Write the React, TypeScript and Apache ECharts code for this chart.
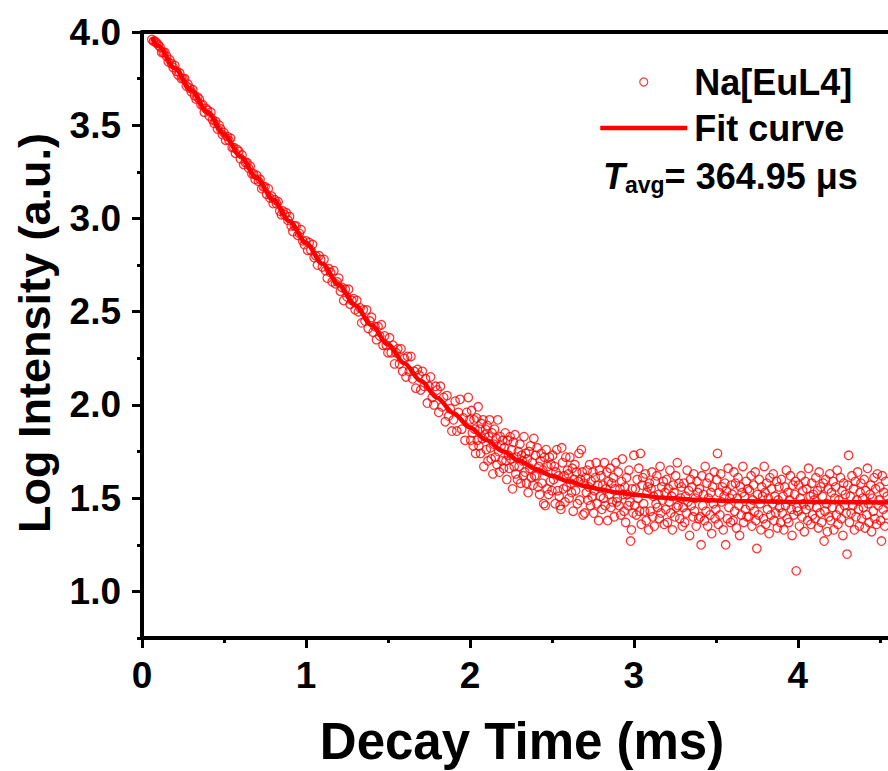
import React, { useEffect, useRef } from "react";
import * as echarts from "echarts";

const FONT = '"Liberation Sans", Arial, Helvetica, sans-serif';

const xTickValues = [0, 1, 2, 3, 4];
const xMinorTickValues = [0.5, 1.5, 2.5, 3.5, 4.5];
const yTickValues = [1.0, 1.5, 2.0, 2.5, 3.0, 3.5, 4.0];
const yMinorTickValues = [0.75, 1.25, 1.75, 2.25, 2.75, 3.25, 3.75];

const seriesNames = ["Na[EuL4]", "Fit curve"];
const xAxisTitle = "Decay Time (ms)";
const yAxisTitle = "Log Intensity (a.u.)";
const avgLifetimeUs = "364.95";

// measured decay (fast part), [time ms, log intensity]
const decayPoints = [
  [0.06,3.96],[0.07,3.95],[0.08,3.95],[0.09,3.94],
  [0.1,3.93],[0.11,3.92],[0.12,3.89],[0.13,3.89],[0.14,3.89],[0.15,3.87],[0.16,3.84],[0.17,3.85],[0.18,3.83],[0.19,3.81],
  [0.2,3.82],[0.21,3.79],[0.22,3.77],[0.23,3.78],[0.24,3.75],[0.25,3.75],[0.26,3.75],[0.27,3.71],[0.28,3.72],[0.29,3.7],
  [0.3,3.68],[0.31,3.69],[0.32,3.66],[0.33,3.64],[0.34,3.65],[0.35,3.64],[0.36,3.61],[0.37,3.61],[0.38,3.57],[0.39,3.59],
  [0.4,3.58],[0.41,3.55],[0.42,3.57],[0.43,3.53],[0.44,3.51],[0.45,3.52],[0.46,3.48],[0.47,3.5],[0.48,3.48],[0.49,3.45],
  [0.5,3.46],[0.51,3.42],[0.52,3.44],[0.53,3.42],[0.54,3.43],[0.55,3.38],[0.56,3.38],[0.57,3.35],[0.58,3.37],[0.59,3.36],
  [0.6,3.32],[0.61,3.34],[0.62,3.29],[0.63,3.3],[0.64,3.3],[0.65,3.27],[0.66,3.28],[0.67,3.24],[0.68,3.24],[0.69,3.21],
  [0.7,3.23],[0.71,3.2],[0.72,3.21],[0.73,3.16],[0.74,3.17],[0.75,3.17],[0.76,3.13],[0.77,3.16],[0.78,3.11],[0.79,3.12],
  [0.8,3.08],[0.81,3.1],[0.82,3.08],[0.83,3.09],[0.84,3.04],[0.85,3.02],[0.86,3.04],[0.87,3.02],[0.88,3.03],[0.89,2.99],
  [0.9,3.01],[0.91,2.96],[0.92,2.93],[0.93,2.96],[0.94,2.96],[0.95,2.91],[0.96,2.92],[0.97,2.94],[0.98,2.88],[0.99,2.86],
  [1,2.88],[1.01,2.83],[1.02,2.87],[1.03,2.83],[1.04,2.86],[1.05,2.79],[1.06,2.8],[1.07,2.75],[1.08,2.8],[1.09,2.78],
  [1.1,2.74],[1.11,2.78],[1.12,2.72],[1.13,2.68],[1.14,2.73],[1.15,2.71],[1.16,2.66],[1.17,2.72],[1.18,2.65],[1.19,2.66],
  [1.2,2.68],[1.21,2.61],[1.22,2.63],[1.23,2.56],[1.24,2.62],[1.25,2.58],[1.26,2.62],[1.27,2.54],[1.28,2.56],[1.29,2.57],
  [1.3,2.51],[1.31,2.56],[1.32,2.5],[1.33,2.52],[1.34,2.44],[1.35,2.51],[1.36,2.45],[1.37,2.51],[1.38,2.41],[1.39,2.45],
  [1.4,2.47],[1.41,2.39],[1.42,2.42],[1.43,2.35],[1.44,2.42],[1.45,2.37],[1.46,2.43],[1.47,2.32],[1.48,2.37],[1.49,2.32],
  [1.5,2.28],[1.51,2.36],[1.52,2.28],[1.53,2.32],[1.54,2.22],[1.55,2.28],[1.56,2.3],[1.57,2.22],[1.58,2.3],[1.59,2.18],
  [1.6,2.25],[1.61,2.15],[1.62,2.26],[1.63,2.18],[1.64,2.26],[1.65,2.14],[1.66,2.18],[1.67,2.09],[1.68,2.19],[1.69,2.16],
  [1.7,2.08],[1.71,2.18],[1.72,2.1],[1.73,2.14],[1.74,2.01],[1.75,2.1],[1.76,2.15],[1.77,2.04],[1.78,2.0],[1.79,2.1],
  [1.8,2.08],[1.81,1.96],[1.82,2.1],[1.83,1.99],[1.84,2.04],[1.85,1.91],[1.86,2.05],[1.87,1.94],[1.88,1.98],[1.89,1.86],
  [1.9,1.92],[1.91,2.02],[1.92,1.86],[1.93,1.96],[1.94,2.03],[1.95,1.87],[1.96,1.93],[1.97,1.81],[1.98,1.96],[1.99,2.04],
];

// measured decay (background tail), [time ms, log intensity]
const tailPoints = [
  [2,1.92],[2.005,1.81],[2.01,1.97],[2.015,1.85],[2.02,1.78],[2.025,1.92],[2.03,1.87],[2.035,1.74],[2.04,1.93],[2.045,1.81],[2.05,1.99],[2.055,1.78],[2.06,1.87],[2.065,1.74],[2.07,1.9],[2.075,1.82],[2.08,1.92],[2.085,1.67],[2.09,1.84],[2.095,1.87],
  [2.1,1.76],[2.105,1.89],[2.11,1.7],[2.115,1.83],[2.12,1.92],[2.125,1.77],[2.13,1.71],[2.135,1.85],[2.14,1.63],[2.145,1.79],[2.15,1.87],[2.155,1.72],[2.16,1.82],[2.165,1.68],[2.17,1.92],[2.175,1.75],[2.18,1.64],[2.185,1.83],[2.19,1.78],[2.195,1.7],
  [2.2,1.81],[2.205,1.66],[2.21,1.77],[2.215,1.85],[2.22,1.7],[2.225,1.6],[2.23,1.81],[2.235,1.73],[2.24,1.66],[2.245,1.83],[2.25,1.71],[2.255,1.76],[2.26,1.55],[2.265,1.8],[2.27,1.67],[2.275,1.84],[2.28,1.63],[2.285,1.72],[2.29,1.6],[2.295,1.75],
  [2.3,1.67],[2.305,1.79],[2.31,1.58],[2.315,1.73],[2.32,1.7],[2.325,1.62],[2.33,1.83],[2.335,1.64],[2.34,1.74],[2.345,1.58],[2.35,1.71],[2.355,1.53],[2.36,1.75],[2.365,1.66],[2.37,1.78],[2.375,1.61],[2.38,1.69],[2.385,1.57],[2.39,1.82],[2.395,1.62],
  [2.4,1.73],[2.405,1.62],[2.41,1.77],[2.415,1.56],[2.42,1.67],[2.425,1.52],[2.43,1.7],[2.435,1.74],[2.44,1.58],[2.445,1.65],[2.45,1.47],[2.455,1.72],[2.46,1.46],[2.465,1.76],[2.47,1.55],[2.475,1.67],[2.48,1.52],[2.485,1.72],[2.49,1.59],[2.495,1.68],
  [2.5,1.54],[2.505,1.73],[2.51,1.6],[2.515,1.67],[2.52,1.47],[2.525,1.64],[2.53,1.76],[2.535,1.54],[2.54,1.62],[2.545,1.51],[2.55,1.46],[2.555,1.44],[2.56,1.77],[2.565,1.69],[2.57,1.55],[2.575,1.62],[2.58,1.48],[2.585,1.72],[2.59,1.56],[2.595,1.65],
  [2.6,1.63],[2.605,1.5],[2.61,1.72],[2.615,1.58],[2.62,1.53],[2.625,1.66],[2.63,1.43],[2.635,1.6],[2.64,1.68],[2.645,1.54],[2.65,1.64],[2.655,1.47],[2.66,1.59],[2.665,1.74],[2.67,1.49],[2.675,1.6],[2.68,1.76],[2.685,1.64],[2.69,1.41],[2.695,1.58],
  [2.7,1.42],[2.705,1.61],[2.71,1.53],[2.715,1.65],[2.72,1.49],[2.725,1.56],[2.73,1.68],[2.735,1.46],[2.74,1.59],[2.745,1.51],[2.75,1.64],[2.755,1.42],[2.76,1.54],[2.765,1.61],[2.77,1.69],[2.775,1.47],[2.78,1.57],[2.785,1.38],[2.79,1.65],[2.795,1.51],
  [2.8,1.62],[2.805,1.44],[2.81,1.57],[2.815,1.5],[2.82,1.69],[2.825,1.46],[2.83,1.55],[2.835,1.64],[2.84,1.38],[2.845,1.59],[2.85,1.52],[2.855,1.66],[2.86,1.45],[2.865,1.58],[2.87,1.48],[2.875,1.61],[2.88,1.4],[2.885,1.55],[2.89,1.69],[2.895,1.48],
  [2.9,1.5],[2.905,1.64],[2.91,1.46],[2.915,1.55],[2.92,1.41],[2.925,1.59],[2.93,1.71],[2.935,1.52],[2.94,1.43],[2.945,1.56],[2.95,1.37],[2.955,1.61],[2.96,1.52],[2.965,1.46],[2.97,1.65],[2.975,1.48],[2.98,1.27],[2.985,1.33],[2.99,1.55],[2.995,1.42],
  [3,1.73],[3.005,1.46],[3.01,1.55],[3.015,1.41],[3.02,1.6],[3.025,1.5],[3.03,1.66],[3.035,1.43],[3.04,1.74],[3.045,1.36],[3.05,1.57],[3.055,1.61],[3.06,1.47],[3.065,1.43],[3.07,1.63],[3.075,1.38],[3.08,1.53],[3.085,1.56],[3.09,1.33],[3.095,1.58],
  [3.1,1.43],[3.105,1.55],[3.11,1.64],[3.115,1.4],[3.12,1.51],[3.125,1.35],[3.13,1.59],[3.135,1.47],[3.14,1.62],[3.145,1.45],[3.15,1.52],[3.155,1.39],[3.16,1.67],[3.165,1.42],[3.17,1.56],[3.175,1.49],[3.18,1.59],[3.185,1.36],[3.19,1.53],[3.195,1.44],
  [3.2,1.6],[3.205,1.37],[3.21,1.55],[3.215,1.48],[3.22,1.65],[3.225,1.42],[3.23,1.51],[3.235,1.33],[3.24,1.57],[3.245,1.53],[3.25,1.4],[3.255,1.62],[3.26,1.45],[3.265,1.69],[3.27,1.46],[3.275,1.58],[3.28,1.39],[3.285,1.5],[3.29,1.56],[3.295,1.35],
  [3.3,1.45],[3.305,1.58],[3.31,1.37],[3.315,1.51],[3.32,1.42],[3.325,1.65],[3.33,1.48],[3.335,1.54],[3.34,1.3],[3.345,1.6],[3.35,1.46],[3.355,1.56],[3.36,1.4],[3.365,1.63],[3.37,1.43],[3.375,1.5],[3.38,1.35],[3.385,1.59],[3.39,1.53],[3.395,1.39],
  [3.4,1.55],[3.405,1.4],[3.41,1.25],[3.415,1.62],[3.42,1.46],[3.425,1.52],[3.43,1.38],[3.435,1.67],[3.44,1.43],[3.445,1.58],[3.45,1.35],[3.455,1.5],[3.46,1.61],[3.465,1.41],[3.47,1.53],[3.475,1.31],[3.48,1.56],[3.485,1.47],[3.49,1.64],[3.495,1.39],
  [3.5,1.44],[3.505,1.6],[3.51,1.74],[3.515,1.36],[3.52,1.53],[3.525,1.41],[3.53,1.63],[3.535,1.48],[3.54,1.56],[3.545,1.33],[3.55,1.51],[3.555,1.58],[3.56,1.25],[3.565,1.54],[3.57,1.39],[3.575,1.66],[3.58,1.45],[3.585,1.5],[3.59,1.37],[3.595,1.57],
  [3.6,1.52],[3.605,1.38],[3.61,1.64],[3.615,1.43],[3.62,1.58],[3.625,1.34],[3.63,1.5],[3.635,1.61],[3.64,1.46],[3.645,1.3],[3.65,1.56],[3.655,1.41],[3.66,1.53],[3.665,1.67],[3.67,1.37],[3.675,1.51],[3.68,1.44],[3.685,1.59],[3.69,1.4],[3.695,1.55],
  [3.7,1.4],[3.705,1.54],[3.71,1.46],[3.715,1.62],[3.72,1.35],[3.725,1.49],[3.73,1.57],[3.735,1.43],[3.74,1.64],[3.745,1.38],[3.75,1.23],[3.755,1.52],[3.76,1.41],[3.765,1.6],[3.77,1.47],[3.775,1.33],[3.78,1.56],[3.785,1.51],[3.79,1.39],[3.795,1.67],
  [3.8,1.53],[3.805,1.36],[3.81,1.58],[3.815,1.44],[3.82,1.5],[3.825,1.31],[3.83,1.61],[3.835,1.41],[3.84,1.55],[3.845,1.47],[3.85,1.63],[3.855,1.38],[3.86,1.51],[3.865,1.42],[3.87,1.59],[3.875,1.34],[3.88,1.49],[3.885,1.56],[3.89,1.45],[3.895,1.37],
  [3.9,1.6],[3.905,1.42],[3.91,1.51],[3.915,1.33],[3.92,1.56],[3.925,1.46],[3.93,1.65],[3.935,1.39],[3.94,1.53],[3.945,1.37],[3.95,1.49],[3.955,1.62],[3.96,1.44],[3.965,1.3],[3.97,1.57],[3.975,1.41],[3.98,1.52],[3.985,1.59],[3.99,1.11],[3.995,1.45],
  [4,1.43],[4.005,1.57],[4.01,1.35],[4.015,1.5],[4.02,1.62],[4.025,1.4],[4.03,1.54],[4.035,1.47],[4.04,1.32],[4.045,1.59],[4.05,1.44],[4.055,1.55],[4.06,1.38],[4.065,1.66],[4.07,1.46],[4.075,1.51],[4.08,1.36],[4.085,1.58],[4.09,1.41],[4.095,1.52],
  [4.1,1.49],[4.105,1.39],[4.11,1.61],[4.115,1.45],[4.12,1.54],[4.125,1.34],[4.13,1.64],[4.135,1.42],[4.14,1.56],[4.145,1.37],[4.15,1.51],[4.155,1.58],[4.16,1.27],[4.165,1.43],[4.17,1.6],[4.175,1.47],[4.18,1.32],[4.185,1.55],[4.19,1.4],[4.195,1.63],
  [4.2,1.38],[4.205,1.53],[4.21,1.45],[4.215,1.59],[4.22,1.33],[4.225,1.5],[4.23,1.56],[4.235,1.41],[4.24,1.65],[4.245,1.36],[4.25,1.49],[4.255,1.44],[4.26,1.61],[4.265,1.39],[4.27,1.54],[4.275,1.3],[4.28,1.58],[4.285,1.46],[4.29,1.52],[4.295,1.42],
  [4.3,1.2],[4.305,1.57],[4.31,1.73],[4.315,1.37],[4.32,1.51],[4.325,1.42],[4.33,1.62],[4.335,1.46],[4.34,1.55],[4.345,1.33],[4.35,1.59],[4.355,1.4],[4.36,1.49],[4.365,1.64],[4.37,1.44],[4.375,1.35],[4.38,1.53],[4.385,1.58],[4.39,1.39],[4.395,1.5],
  [4.4,1.45],[4.405,1.6],[4.41,1.34],[4.415,1.54],[4.42,1.41],[4.425,1.66],[4.43,1.47],[4.435,1.37],[4.44,1.52],[4.445,1.57],[4.45,1.32],[4.455,1.5],[4.46,1.43],[4.465,1.61],[4.47,1.39],[4.475,1.55],[4.48,1.36],[4.485,1.63],[4.49,1.46],[4.495,1.49],
  [4.5,1.56],[4.505,1.38],[4.51,1.27],[4.515,1.62],[4.52,1.44],[4.525,1.53],[4.53,1.35],[4.535,1.59],[4.54,1.41],[4.545,1.51],[4.55,1.47],
];

// fitted curve, [time ms, log intensity]
const fitCurve = [
  [0.06,3.972],[0.1,3.925],[0.2,3.806],[0.3,3.688],[0.4,3.57],[0.5,3.452],[0.6,3.334],[0.7,3.217],[0.8,3.1],[0.9,2.985],
  [1.0,2.87],[1.1,2.757],[1.2,2.645],[1.3,2.535],[1.4,2.428],[1.5,2.324],[1.6,2.224],[1.7,2.129],[1.8,2.039],[1.9,1.956],
  [2.0,1.88],[2.1,1.812],[2.2,1.752],[2.3,1.701],[2.4,1.657],[2.5,1.62],[2.6,1.59],[2.7,1.565],[2.8,1.546],[2.9,1.53],
  [3.0,1.518],[3.2,1.501],[3.4,1.491],[3.6,1.485],[3.8,1.482],[4.0,1.48],[4.3,1.478],[4.55,1.477],
];

export default function App() {
  const ref = useRef<HTMLDivElement>(null);

  useEffect(() => {
    if (!ref.current) return;
    const chart = echarts.init(ref.current, null, { renderer: "svg" });
    const black = "#000";
    const red = "#ff0000";
    const tickLabel = {
      fontSize: 37,
      fontWeight: "bold" as const,
      fontFamily: FONT,
      color: black,
    };
    const option: any = {
      animation: false,
      backgroundColor: "#fff",
      grid: { left: 142, right: 0, top: 32, bottom: 133 },
      xAxis: [
        {
          type: "value", min: 0, max: 4.55, position: "bottom",
          axisLine: { show: true, onZero: false, lineStyle: { color: black, width: 4 } },
          axisTick: { show: true, customValues: xTickValues, length: 10, lineStyle: { color: black, width: 3 } },
          axisLabel: { show: true, customValues: xTickValues, margin: 19, ...tickLabel, formatter: (v: number) => String(v) },
          splitLine: { show: false },
        },
        {
          type: "value", min: 0, max: 4.55, position: "bottom",
          axisLine: { show: false },
          axisTick: { show: true, customValues: xMinorTickValues, length: 5, lineStyle: { color: black, width: 3 } },
          axisLabel: { show: false },
          splitLine: { show: false },
        },
        {
          type: "value", min: 0, max: 4.55, position: "top",
          axisLine: { show: true, onZero: false, lineStyle: { color: black, width: 4 } },
          axisTick: { show: false },
          axisLabel: { show: false },
          splitLine: { show: false },
        },
      ],
      yAxis: [
        {
          type: "value", min: 0.75, max: 4, position: "left",
          axisLine: { show: true, onZero: false, lineStyle: { color: black, width: 4 } },
          axisTick: { show: true, customValues: yTickValues, length: 10, lineStyle: { color: black, width: 3 } },
          axisLabel: { show: true, customValues: yTickValues, margin: 21, ...tickLabel, formatter: (v: number) => v.toFixed(1) },
          splitLine: { show: false },
        },
        {
          type: "value", min: 0.75, max: 4, position: "left",
          axisLine: { show: false },
          axisTick: { show: true, customValues: yMinorTickValues, length: 5, lineStyle: { color: black, width: 3 } },
          axisLabel: { show: false },
          splitLine: { show: false },
        },
      ],
      legend: {
        show: true,
        orient: "vertical",
        left: 598,
        top: 59,
        padding: 0,
        itemGap: 0,
        itemWidth: 87,
        itemHeight: 8,
        selectedMode: false,
        itemStyle: { borderWidth: 1.2 },
        lineStyle: { width: 4.5 },
        textStyle: {
          fontSize: 36, fontWeight: "bold", fontFamily: FONT, color: black,
          lineHeight: 46, padding: [0, 0, 0, 2],
        },
        data: [
          { name: seriesNames[0] },
          { name: seriesNames[1], itemStyle: { color: "rgba(0,0,0,0)", borderWidth: 0, borderColor: "rgba(0,0,0,0)" } },
        ],
      },
      graphic: [
        {
          type: "text", x: 603, y: 156,
          style: {
            text: `{t|T}{s|avg}{n|= ${avgLifetimeUs} μs}`,
            align: "left", verticalAlign: "top",
            rich: {
              t: { fontSize: 36, fontStyle: "italic", fontWeight: "bold", fontFamily: FONT, fill: black, lineHeight: 40 },
              s: { fontSize: 23, fontWeight: "bold", fontFamily: FONT, fill: black, lineHeight: 12, verticalAlign: "bottom" },
              n: { fontSize: 36, fontWeight: "bold", fontFamily: FONT, fill: black, lineHeight: 40 },
            },
          },
        },
        {
          type: "text", x: 522, y: 741,
          style: { text: xAxisTitle, fontSize: 51, fontWeight: "bold", fontFamily: FONT, fill: black, align: "center", verticalAlign: "middle" },
        },
        {
          type: "text", x: 34, y: 333, rotation: Math.PI / 2,
          style: { text: yAxisTitle, fontSize: 45, fontWeight: "bold", fontFamily: FONT, fill: black, align: "center", verticalAlign: "middle" },
        },
      ],
      series: [
        {
          type: "scatter",
          name: seriesNames[0],
          xAxisIndex: 0, yAxisIndex: 0,
          data: [...decayPoints, ...tailPoints],
          symbol: "circle",
          symbolSize: 8.5,
          itemStyle: { color: "rgba(255,255,255,0)", borderColor: red, borderWidth: 1.3 },
          silent: true,
          z: 2,
        },
        {
          type: "line",
          name: seriesNames[1],
          xAxisIndex: 0, yAxisIndex: 0,
          data: fitCurve,
          symbol: "none",
          showSymbol: false,
          smooth: 0.3,
          smoothMonotone: "x",
          lineStyle: { color: red, width: 4.5 },
          itemStyle: { color: red },
          silent: true,
          z: 3,
        },
      ],
    };
    chart.setOption(option);
    return () => chart.dispose();
  }, []);

  return (
    <div
      ref={ref}
      style={{ position: "fixed", left: 0, top: 0, width: 888, height: 771, background: "#fff" }}
    />
  );
}
